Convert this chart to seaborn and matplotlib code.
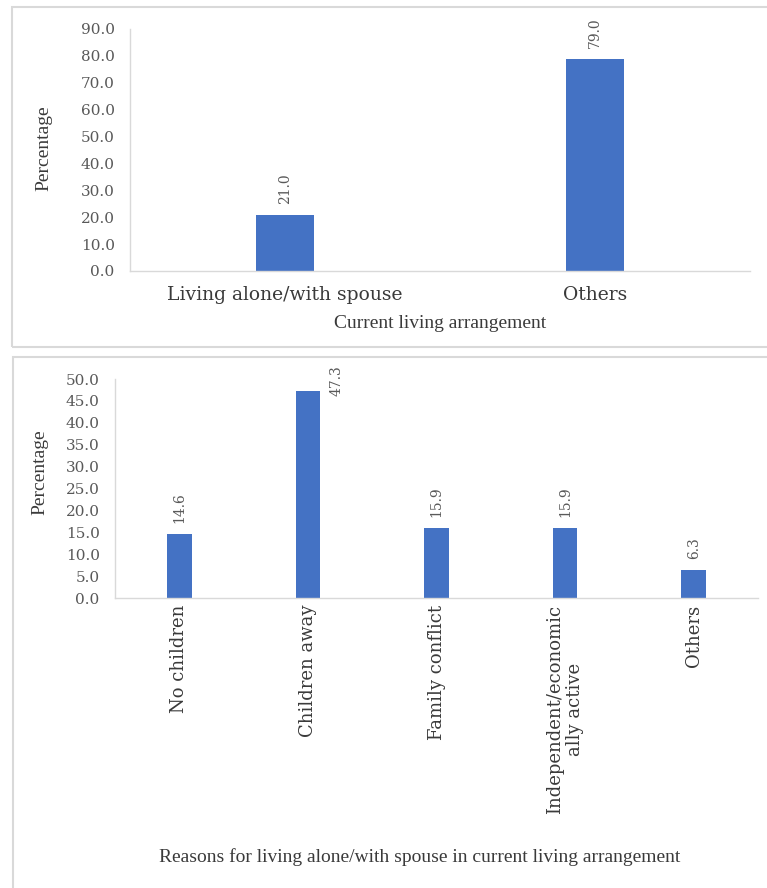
#!/usr/bin/env python3
# Living arrangement of respondents and reasons for living alone/with spouse

import matplotlib
matplotlib.use('Agg')
import matplotlib.pyplot as plt
from matplotlib.patches import Rectangle
import seaborn as sns

# Data
arrangement_labels = ['Living alone/with spouse', 'Others']
arrangement_pct = [21.0, 79.0]

reason_labels = ['No children', 'Children away', 'Family conflict',
                 'Independent/economic\nally active', 'Others']
reason_pct = [14.6, 47.3, 15.9, 15.9, 6.3]

bar_color = '#4472C4'
grid_gray = '#d9d9d9'
tick_gray = '#595959'
text_dark = '#3a3a3a'

sns.set_style('white')
plt.rcParams['font.family'] = ['DejaVu Serif']

W, H = 767, 888
fig = plt.figure(figsize=(W / 100, H / 100), dpi=100)
fig.patch.set_facecolor('white')


def px_axes(left, top, right, bottom):
    # convert pixel box (from top-left) to figure fractions
    return fig.add_axes([left / W, 1 - bottom / H, (right - left) / W, (bottom - top) / H])


# panel frames
fig.patches.append(Rectangle((12 / W, 1 - 347 / H), 1.2, (347 - 7) / H, transform=fig.transFigure,
                             fill=False, edgecolor=grid_gray, linewidth=1.5, zorder=0))
fig.patches.append(Rectangle((13 / W, -0.2), 1.2, 0.2 + 1 - 357 / H, transform=fig.transFigure,
                             fill=False, edgecolor=grid_gray, linewidth=1.5, zorder=0))


def style_axes(ax, ymax, step):
    ax.set_ylim(0, ymax)
    ax.set_yticks([i * step for i in range(int(round(ymax / step)) + 1)])
    ax.set_yticklabels([f'{t:.1f}' for t in ax.get_yticks()])
    for s in ['top', 'right']:
        ax.spines[s].set_visible(False)
    for s in ['left', 'bottom']:
        ax.spines[s].set_color(grid_gray)
        ax.spines[s].set_linewidth(1.0)
    ax.tick_params(axis='y', direction='out', length=6, width=1, color=grid_gray,
                   labelcolor=tick_gray, labelsize=11, pad=5)
    ax.set_facecolor('white')


def add_labels(ax, values, ymax):
    for i, v in enumerate(values):
        if v > ymax * 0.9:
            # no room above the bar: put the label beside it
            ax.annotate(f'{v:.1f}', xy=(i, v), xytext=(29, 10), textcoords='offset pixels',
                        rotation=90, ha='center', va='center', fontsize=10,
                        color=tick_gray, annotation_clip=False)
        else:
            ax.annotate(f'{v:.1f}', xy=(i, v), xytext=(0, 11), textcoords='offset pixels',
                        rotation=90, ha='center', va='bottom', fontsize=10,
                        color=tick_gray, annotation_clip=False)


# Top panel: current living arrangement
ax1 = px_axes(130, 29, 750, 271)
sns.barplot(x=arrangement_labels, y=arrangement_pct, ax=ax1, color=bar_color,
            saturation=1, width=0.185, edgecolor='none')
style_axes(ax1, 90, 10)
ax1.tick_params(axis='x', length=0, labelsize=13.5, labelcolor=text_dark, pad=11)
ax1.set_xlabel('Current living arrangement', family='Liberation Serif', fontsize=14, color=text_dark)
ax1.xaxis.set_label_coords(0.5, -0.18)
ax1.set_ylabel('Percentage', family='Liberation Serif', fontsize=14, color=text_dark)
ax1.yaxis.set_label_coords(-0.125, 0.508)
add_labels(ax1, arrangement_pct, 90)

# Bottom panel: reasons
ax2 = px_axes(115, 379, 758, 598)
sns.barplot(x=reason_labels, y=reason_pct, ax=ax2, color=bar_color,
            saturation=1, width=0.19, edgecolor='none')
style_axes(ax2, 50, 5)
ax2.tick_params(axis='x', length=0, labelsize=13, labelcolor=text_dark, pad=5, labelrotation=90)
ax2.set_xlabel('Reasons for living alone/with spouse in current living arrangement',
               family='Liberation Serif', fontsize=14, color=text_dark)
ax2.xaxis.set_label_coords(0.474, -1.14)
ax2.set_ylabel('Percentage', family='Liberation Serif', fontsize=14, color=text_dark)
ax2.yaxis.set_label_coords(-0.103, 0.575)
add_labels(ax2, reason_pct, 50)

plt.savefig('out.png', dpi=100, facecolor='white')
print("Saved out.png")
